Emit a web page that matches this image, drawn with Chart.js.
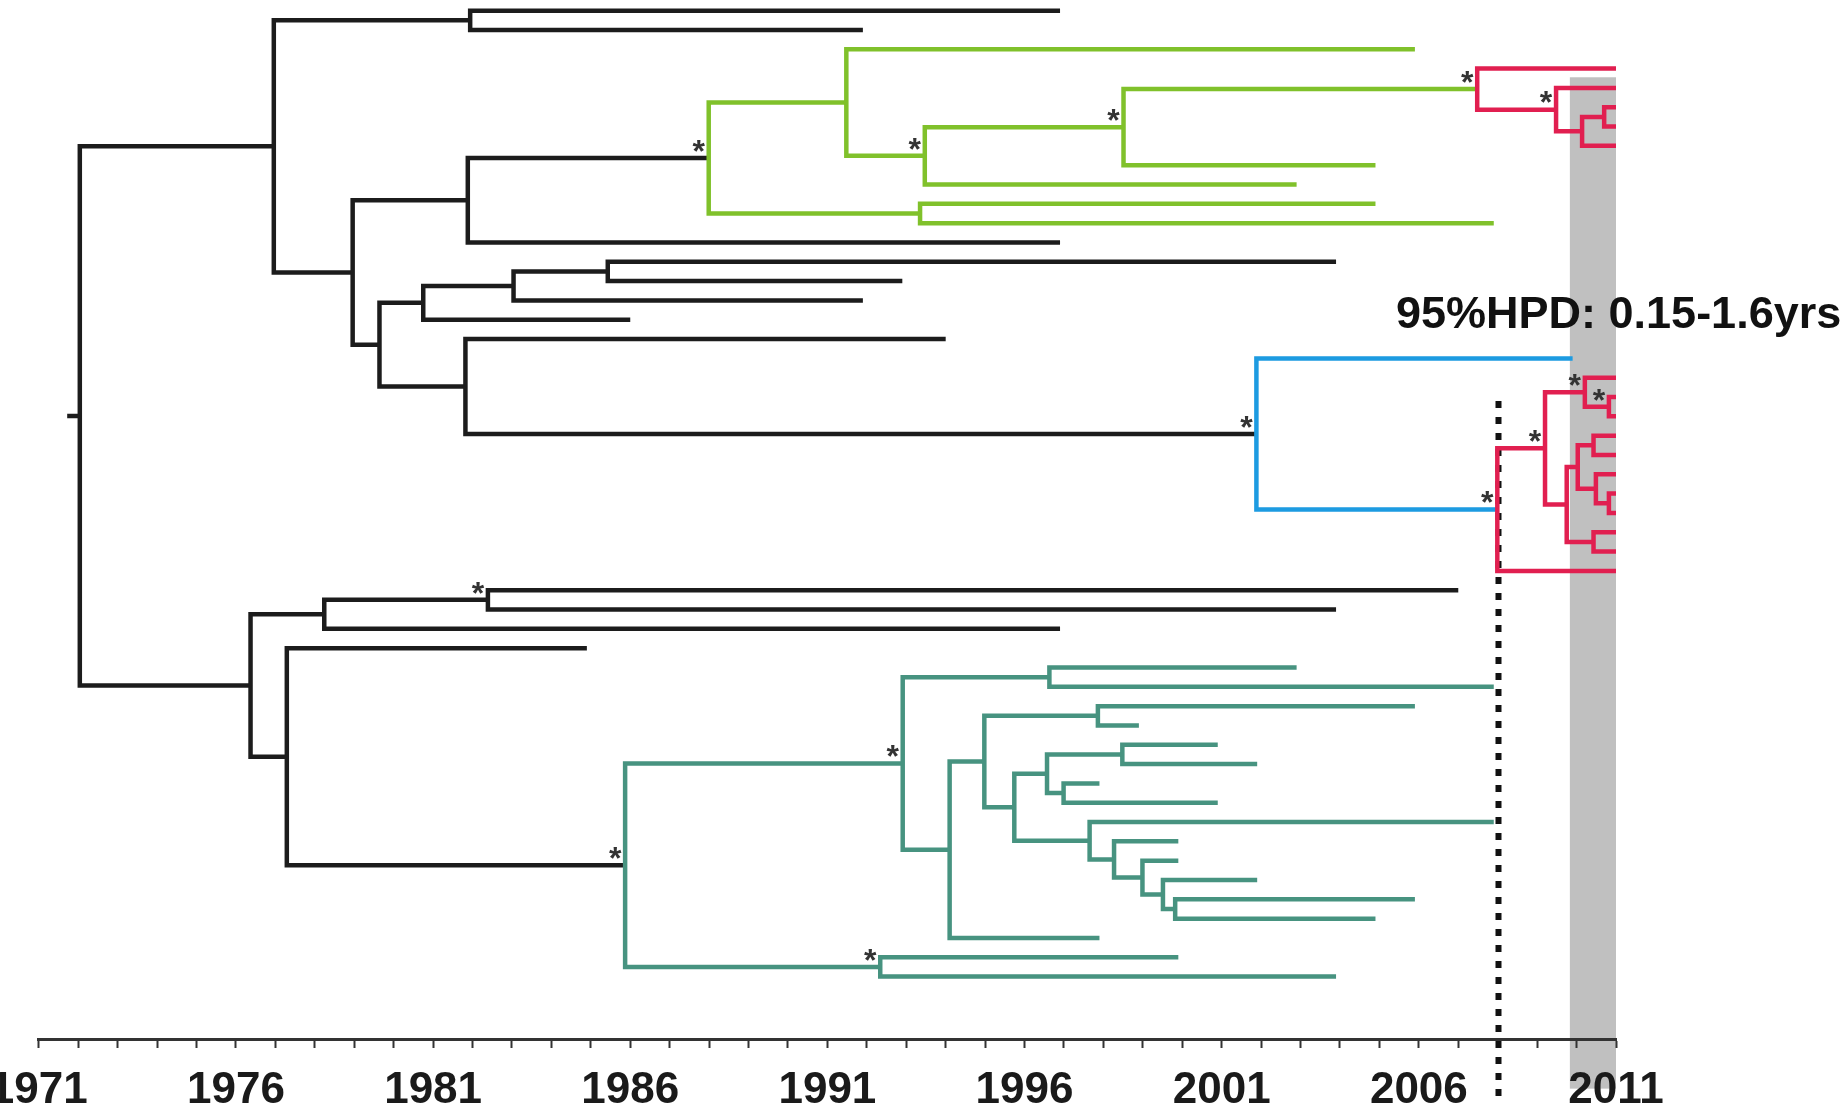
<!DOCTYPE html>
<html>
<head>
<meta charset="utf-8">
<script src="https://cdn.jsdelivr.net/npm/chart.js@4.4.1/dist/chart.umd.min.js"></script>
<style>
  html, body { margin: 0; padding: 0; background: #fff; }
  #wrap { width: 1843px; height: 1111px; position: relative; }
</style>
</head>
<body>
<div id="wrap"><canvas id="chart"></canvas></div>
<script>
// sampling date of each tip, top to bottom (row = index)
const tipYears = [1996.9, 1991.9, 2005.9, 2011.0, 2011.0, 2011.0, 2011.0, 2011.0, 2004.9, 2002.9,
  2004.9, 2007.9, 1996.9, 2003.9, 1992.9, 1991.9, 1986.0, 1994.0, 2009.9, 2011.0,
  2011.0, 2011.0, 2011.0, 2011.0, 2011.0, 2011.0, 2011.0, 2011.0, 2011.0, 2011.0,
  2007.0, 2003.9, 1996.9, 1984.9, 2002.9, 2007.9, 2005.9, 1998.9, 2000.9, 2001.9,
  1997.9, 2000.9, 2007.9, 1999.9, 1999.9, 2001.9, 2005.9, 2004.9, 1997.9, 1999.9, 2003.9];

// internal nodes (numbers in nodeKids are tip rows, strings are other nodes)
const nodeNames = ['root', 'A', 'B', 'C', 'D', 'G1', 'G2', 'G3', 'G4', 'R1', 'R2', 'R3', 'R4', 'G5',
  'E', 'F', 'H', 'I', 'J', 'B1', 'R5', 'R6', 'R7', 'R8', 'R9', 'R10', 'R11', 'R12', 'R13', 'R14',
  'K', 'L', 'M', 'N', 'T1', 'T2', 'T3', 'TB', 'TC', 'T4', 'TD', 'TE', 'T5', 'T6', 'TF', 'TG', 'TH', 'TI', 'TJ', 'T7'];
const nodeYears = [1972.04, 1976.96, 1981.94, 1978.96, 1981.88, 1987.99, 1991.48, 1993.47, 1998.51, 2007.48,
  2009.48, 2010.14, 2010.70, 1993.35, 1979.64, 1980.75, 1983.04, 1985.43, 1981.82, 2001.88,
  2007.99, 2009.20, 2010.21, 2010.82, 2009.75, 2010.03, 2010.43, 2010.49, 2010.82, 2010.43,
  1976.37, 1978.24, 1982.39, 1977.29, 1985.87, 1992.91, 1996.63, 1994.10, 1994.98, 1997.86,
  1995.74, 1996.57, 1998.48, 1996.99, 1997.65, 1998.27, 1998.99, 1999.51, 1999.82, 1992.34];
const nodeKids = [['A', 'K'], ['B', 'C'], [0, 1], ['D', 'E'], ['G1', 12], ['G2', 'G5'], [2, 'G3'], ['G4', 9],
  ['R1', 8], [3, 'R2'], [4, 'R3'], ['R4', 7], [5, 6], [10, 11],
  ['F', 'J'], ['H', 16], ['I', 15], [13, 14], [17, 'B1'], [18, 'R5'], ['R6', 29], ['R7', 'R9'],
  [19, 'R8'], [20, 21], ['R10', 'R14'], ['R11', 'R12'], [22, 23], [24, 'R13'], [25, 26], [27, 28],
  ['L', 'N'], ['M', 32], [30, 31], [33, 'T1'], ['T2', 'T7'], ['T3', 'TB'], [34, 35], ['TC', 48],
  ['T4', 'TD'], [36, 37], ['TE', 'TF'], ['T5', 'T6'], [38, 39], [40, 41], [42, 'TG'], [43, 'TH'],
  [44, 'TI'], [45, 'TJ'], [46, 47], [49, 50]];
const nodeClade = ['black', 'black', 'black', 'black', 'black', 'green', 'green', 'green', 'green', 'red',
  'red', 'red', 'red', 'green', 'black', 'black', 'black', 'black', 'black', 'blue',
  'red', 'red', 'red', 'red', 'red', 'red', 'red', 'red', 'red', 'red',
  'black', 'black', 'black', 'black', 'teal', 'teal', 'teal', 'teal', 'teal', 'teal',
  'teal', 'teal', 'teal', 'teal', 'teal', 'teal', 'teal', 'teal', 'teal', 'teal'];
// nodes marked with * (well supported)
const supported = ['G1', 'G3', 'G4', 'R1', 'R2', 'B1', 'R5', 'R6', 'R7', 'R8', 'M', 'T1', 'T2', 'T7'];

const rootStub = 1971.72;
const labelYears = [1971, 1976, 1981, 1986, 1991, 1996, 2001, 2006, 2011];
const hpdBand = [2009.83, 2011.0];
const mrcaYear = 2008.02;
const hpdText = '95%HPD: 0.15-1.6yrs';

const cladeColors = { black: '#1c1c1c', green: '#80c12b', blue: '#1d9be1', teal: '#479380', red: '#e11f50' };
const cladeOrder = ['red', 'blue', 'green', 'teal', 'black'];

function dateOf(id) { return typeof id === 'number' ? tipYears[id] : nodeYears[nodeNames.indexOf(id)]; }
function rowOf(id) {
  if (typeof id === 'number') return id;
  const [a, b] = nodeKids[nodeNames.indexOf(id)];
  return (rowOf(a) + rowOf(b)) / 2;
}

// one polyline per node: child A -> node -> child B
const paths = {};
cladeOrder.forEach(c => { paths[c] = []; });
paths.black.push({ x: rootStub, y: rowOf('root') }, { x: nodeYears[0], y: rowOf('root') }, { x: null, y: null });
nodeNames.forEach((name, i) => {
  const [a, b] = nodeKids[i];
  const x = nodeYears[i];
  paths[nodeClade[i]].push(
    { x: dateOf(a), y: rowOf(a) }, { x: x, y: rowOf(a) },
    { x: x, y: rowOf(b) }, { x: dateOf(b), y: rowOf(b) },
    { x: null, y: null });
});

const datasets = cladeOrder.map((c, i) => ({
  label: c,
  data: paths[c],
  showLine: true,
  borderColor: cladeColors[c],
  backgroundColor: cladeColors[c],
  borderWidth: 4.5,
  pointRadius: 0,
  pointHoverRadius: 0,
  borderJoinStyle: 'miter',
  borderCapStyle: 'butt',
  spanGaps: false,
  order: i
}));

const treeDecor = {
  id: 'treeDecor',
  beforeDraw(chart) {
    const { ctx, scales: { x, y } } = chart;
    ctx.save();
    ctx.fillStyle = '#c0c0c0';
    const x0 = x.getPixelForValue(hpdBand[0]), x1 = x.getPixelForValue(hpdBand[1]);
    const y0 = y.getPixelForValue(3.45), y1 = y.getPixelForValue(55.8);
    ctx.fillRect(x0, y0, x1 - x0, y1 - y0);
    ctx.restore();
  },
  beforeDatasetsDraw(chart) {
    const { ctx, scales: { x, y } } = chart;
    ctx.save();
    ctx.strokeStyle = '#111';
    ctx.lineWidth = 6;
    ctx.setLineDash([7, 9]);
    const px = x.getPixelForValue(mrcaYear);
    ctx.beginPath();
    ctx.moveTo(px, y.getPixelForValue(20.2));
    ctx.lineTo(px, y.getPixelForValue(56.3));
    ctx.stroke();
    ctx.restore();
  },
  afterDraw(chart) {
    const { ctx, scales: { x, y } } = chart;
    ctx.save();
    ctx.fillStyle = '#333';
    ctx.font = 'bold 32px "Liberation Sans", Arial, sans-serif';
    ctx.textAlign = 'center';
    ctx.textBaseline = 'middle';
    supported.forEach(n => {
      const px = x.getPixelForValue(dateOf(n)) - 10;
      const py = y.getPixelForValue(rowOf(n)) - 5;
      ctx.fillText('*', px, py);
    });
    ctx.fillStyle = '#111';
    ctx.font = 'bold 45px "Liberation Sans", Arial, sans-serif';
    ctx.textAlign = 'left';
    ctx.textBaseline = 'alphabetic';
    ctx.fillText(hpdText, x.getPixelForValue(2005.42), y.getPixelForValue(16.43));
    ctx.restore();
  }
};

new Chart(document.getElementById('chart'), {
  type: 'scatter',
  data: { datasets },
  plugins: [treeDecor],
  options: {
    responsive: true,
    maintainAspectRatio: false,
    animation: false,
    events: [],
    layout: { padding: { left: 38.8, right: 227, top: 0, bottom: -23 } },
    plugins: { legend: { display: false }, tooltip: { enabled: false } },
    scales: {
      x: {
        type: 'linear',
        min: 1971,
        max: 2011,
        afterBuildTicks: (s) => {
          const t = [];
          for (let v = 1971; v <= 2011; v++) t.push({ value: v });
          s.ticks = t;
        },
        afterFit: (s) => { s.paddingLeft = 0; s.paddingRight = 0; },
        ticks: {
          autoSkip: false,
          maxRotation: 0,
          minRotation: 0,
          padding: 21,
          color: '#1a1a1a',
          font: { family: '"Liberation Sans Narrow", "Arial Narrow", "Liberation Sans", Arial, sans-serif', size: 44, weight: 'bold', lineHeight: 1 },
          callback: (v) => labelYears.includes(v) ? String(v) : ''
        },
        grid: { drawOnChartArea: false, drawTicks: true, tickLength: 9, tickWidth: 2, tickColor: '#333', color: '#333' },
        border: { display: true, color: '#333', width: 3 }
      },
      y: { type: 'linear', reverse: true, min: -0.55, max: 53.23, display: false }
    }
  }
});
</script>
</body>
</html>
